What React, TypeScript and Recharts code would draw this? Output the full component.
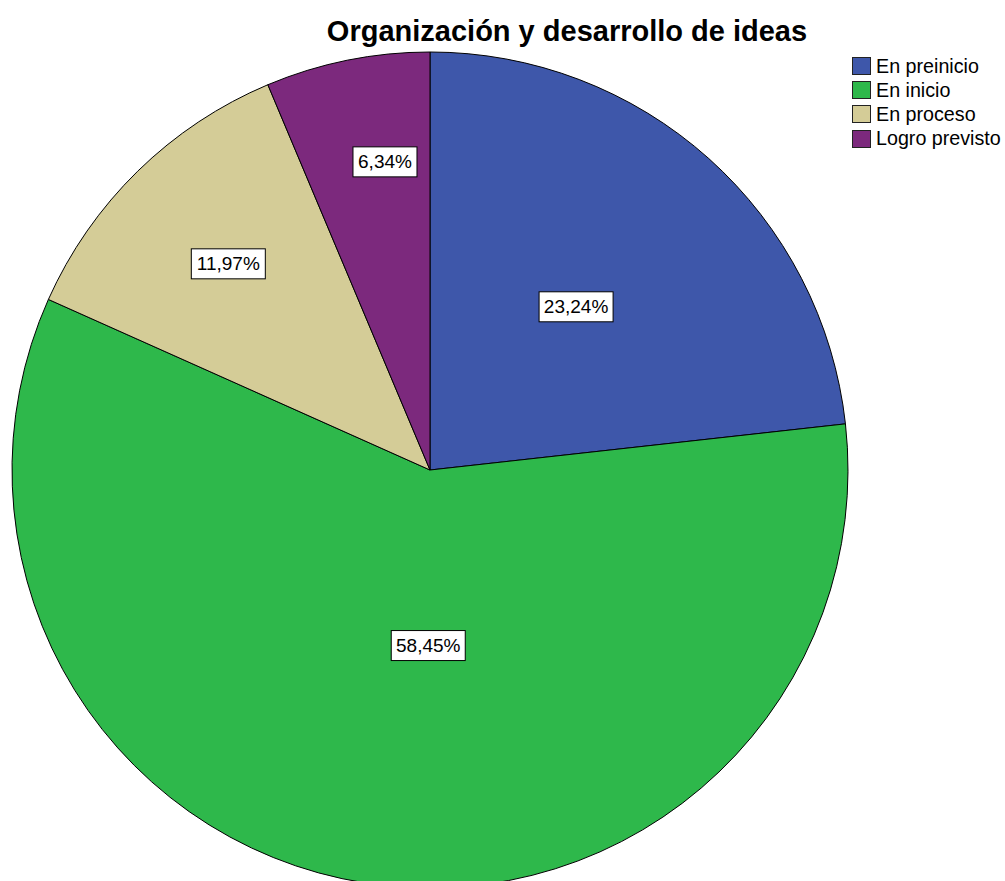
import { PieChart, Pie, Cell, Legend } from "recharts"

const categories = ["En preinicio", "En inicio", "En proceso", "Logro previsto"]
const percents = [23.24, 58.45, 11.97, 6.34]
const colors = ["#3e57aa", "#2eb84b", "#d4cc97", "#7c297d"]

// where SPSS dropped each percentage box (fraction of radius, angle nudge in degrees)
const labelRadius = [0.524, 0.42, 0.69, 0.745]
const labelNudge = [0, 8.3, 0, -3.1]

const data = categories.map((name, i) => ({ name, value: percents[i] }))

const RAD = Math.PI / 180

function PercentLabel(props: any) {
  const { cx, cy, midAngle, outerRadius, index, value } = props
  const angle = (midAngle + labelNudge[index]) * RAD
  const r = outerRadius * labelRadius[index]
  const x = cx + r * Math.cos(angle)
  const y = cy - r * Math.sin(angle)
  const text = value.toFixed(2).replace(".", ",") + "%"
  const w = text.length * 10 + 14
  const h = 30
  return (
    <g>
      <rect x={x - w / 2} y={y - h / 2} width={w} height={h} fill="#fff" stroke="#000" strokeWidth={1} />
      <text
        x={x}
        y={y + 1}
        textAnchor="middle"
        dominantBaseline="middle"
        fontFamily="Liberation Sans, Arial, sans-serif"
        fontSize={19}
        fill="#000"
      >
        {text}
      </text>
    </g>
  )
}

function LegendBox() {
  return (
    <div style={{ fontFamily: "Liberation Sans, Arial, sans-serif", fontSize: 19.7, color: "#000" }}>
      {categories.map((c, i) => (
        <div key={c} style={{ display: "flex", alignItems: "center", height: 24.2, whiteSpace: "nowrap" }}>
          <span
            style={{
              display: "inline-block",
              boxSizing: "border-box",
              width: 19,
              height: 18,
              background: colors[i],
              border: "1px solid #222",
              marginRight: 5,
            }}
          />
          {c}
        </div>
      ))}
    </div>
  )
}

export default function App() {
  return (
    <div style={{ position: "relative", width: 1005, height: 881, background: "#fff", overflow: "hidden" }}>
      <style>{"body{margin:0}"}</style>
      <div
        style={{
          position: "absolute",
          left: 567,
          top: 17,
          transform: "translateX(-50%)",
          fontFamily: "Liberation Sans, Arial, sans-serif",
          fontWeight: "bold",
          fontSize: 29,
          lineHeight: "29px",
          whiteSpace: "nowrap",
          color: "#000",
        }}
      >
        Organización y desarrollo de ideas
      </div>
      <PieChart width={1005} height={881} margin={{ top: 0, right: 0, bottom: 0, left: 0 }}>
        <Pie
          data={data}
          dataKey="value"
          nameKey="name"
          cx={430}
          cy={470}
          outerRadius={418}
          startAngle={90}
          endAngle={-270}
          stroke="#000"
          strokeWidth={1}
          label={PercentLabel}
          labelLine={false}
          isAnimationActive={false}
        >
          {data.map((d, i) => (
            <Cell key={d.name} fill={colors[i]} />
          ))}
        </Pie>
        <Legend
          layout="vertical"
          align="right"
          verticalAlign="top"
          content={() => <LegendBox />}
          wrapperStyle={{ position: "absolute", left: 852, top: 54, width: 160 }}
        />
      </PieChart>
    </div>
  )
}
